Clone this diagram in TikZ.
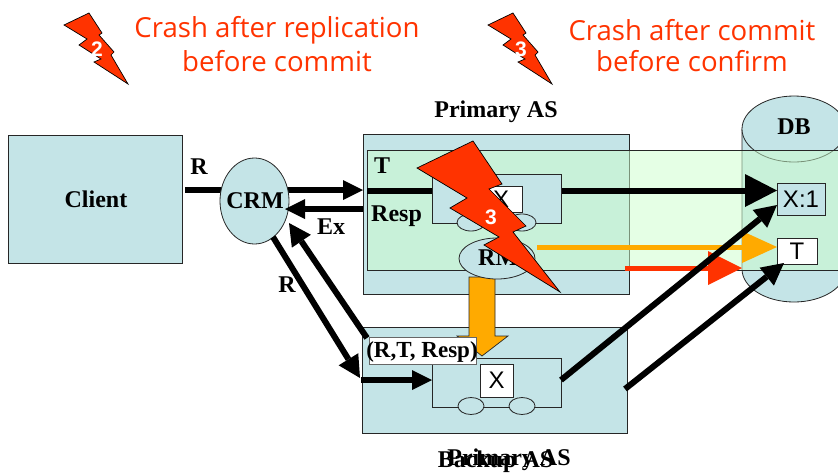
\documentclass[tikz,border=0pt]{standalone}
\usepackage{fontspec}
\setmainfont{Liberation Serif}
\setsansfont{Liberation Sans}
\newfontfamily\crashfont{Open Sans}
\usetikzlibrary{arrows.meta,shapes.geometric}
\definecolor{boxblue}{HTML}{C4E4E7}
\definecolor{crashred}{HTML}{FF3300}
\definecolor{amber}{HTML}{FFAA00}
\definecolor{tgreen}{HTML}{CCFFCC}
\tikzset{
  bluebox/.style={draw=black!85,line width=.8pt,fill=boxblue,inner sep=0pt,outer sep=0pt},
  whitebox/.style={draw=black!85,line width=.8pt,fill=white,inner sep=0pt,outer sep=0pt,font=\sffamily\fontsize{24}{26}\selectfont},
  oval/.style={draw=black!85,line width=.8pt,fill=boxblue,ellipse,inner sep=0pt,outer sep=0pt},
  lbl/.style={font=\bfseries\fontsize{24}{26}\selectfont,inner sep=0pt},
  crash/.style={font=\crashfont\fontsize{27.6}{30}\selectfont,text=crashred,inner sep=0pt},
  bolt/.style={fill=crashred,draw=black,line width=.7pt,line join=miter},
  boltnum/.style={font=\sffamily\bfseries\fontsize{21}{24}\selectfont,text=white,inner sep=0pt},
  bigarrow/.style={line width=6pt,draw=black,-{Triangle[length=22pt,width=23pt,line width=0pt]}},
  shortarrow/.style={line width=6pt,draw=black,-{Triangle[length=20pt,width=20pt,line width=0pt]}},
  blackline/.style={line width=6pt,draw=black},
}
\begin{document}
\begin{tikzpicture}[x=1pt,y=-1pt]
\useasboundingbox (0,0) rectangle (838,472);
\clip (0,0) rectangle (838,472);
% crash legends
\foreach \dx/\n in {0/2,424/3}{
  \begin{scope}[xshift=\dx pt]
  \draw[bolt] (89,13) -- (102,33) -- (99,35) -- (114,52) -- (111,55) -- (128,84) -- (94,62) -- (101,59) -- (79,45) -- (87,39) -- (64,25) -- cycle;
  \node[boltnum] (legend\n) at (97,49) {\n};
  \end{scope}
}
\node[crash] (c1a) at (277,30) {Crash after replication};
\node[crash] (c1b) at (277,61) {before commit};
\node[crash] (c2a) at (692,30) {Crash after commit};
\node[crash] (c2b) at (692,61) {before confirm};
% main boxes
\node[bluebox,minimum width=174pt,minimum height=128pt] (client) at (95,199) {};
\node[lbl] (clientt) at (96,199) {Client};
\node[bluebox,minimum width=266pt,minimum height=160pt] (primary) at (496,214) {};
\node[bluebox,minimum width=265pt,minimum height=106pt] (backup) at (494.5,380) {};
% DB
\draw[draw=black!85,line width=.8pt,fill=boxblue] (742,129) -- (742,269) arc[start angle=180,end angle=360,x radius=52,y radius=-33] -- (846,129) -- cycle;
\draw[draw=black!85,line width=.8pt,fill=boxblue] (794,129) ellipse[x radius=52,y radius=33];
\node[lbl] (db) at (794,127) {DB};
% transaction box
\fill[tgreen,opacity=.5] (367,150) rectangle (850,270);
\draw[black!85,line width=.8pt] (850,150) -- (367,150) -- (367,270) -- (850,270);
% db entries
\node[bluebox,font=\sffamily\fontsize{24}{26}\selectfont,minimum width=48pt,minimum height=32pt] (x1) at (801,199) {X:1};
\node[whitebox,minimum width=40pt,minimum height=26pt] (tdb) at (797,251) {T};
% connectors in T
\coordinate (tstart) at (367,190.5);
\coordinate (x1in) at (777,190.5);
\draw[line width=6pt,-{Triangle[length=32pt,width=33pt,line width=0pt]}] (tstart) -- (x1in);
\coordinate (ostart) at (537,247);
\coordinate (oend) at (777,247);
\draw[amber,line width=5pt,-{Triangle[length=35pt,width=32pt,line width=0pt]}] (ostart) -- (oend);
\coordinate (rstart) at (625,268);
\coordinate (rend) at (742,268);
\draw[crashred,line width=5pt,-{Triangle[length=34pt,width=34pt,line width=0pt]}] (rstart) -- (rend);
% primary server
\node[bluebox,minimum width=129pt,minimum height=49pt] (pinner) at (496.5,198.5) {};
\node[whitebox,minimum width=42pt,minimum height=26pt] (px) at (501,199) {X};
\node[oval,minimum width=28pt,minimum height=17pt] (po1) at (471,222.5) {};
\node[oval,minimum width=28pt,minimum height=17pt] (po2) at (522,222.5) {};
% fat orange arrow
\path (482,277) coordinate (fatstart) (482,356) coordinate (fatend);
\draw[black!85,line width=.7pt,fill=amber] (469,277) -- (469,336) -- (457,336) -- (482,356) -- (508,336) -- (495,336) -- (495,277) -- cycle;
\node[oval,minimum width=76pt,minimum height=41pt] (rm) at (497,258.5) {};
\node[lbl,anchor=west] (rmt) at (478,258) {RM};
% backup server
\node[bluebox,minimum width=129pt,minimum height=49pt] (binner) at (496.5,382.5) {};
\node[whitebox,minimum width=33pt,minimum height=33pt] (bx) at (496.5,380.5) {X};
\node[oval,minimum width=26pt,minimum height=17pt] (bo1) at (471,406) {};
\node[oval,minimum width=26pt,minimum height=17pt] (bo2) at (522,406) {};
% CRM
\draw[blackline] (185,190) coordinate (rin) -- (225,190) coordinate (crmw);
\coordinate (crme) at (285,190);
\coordinate (primw) at (363,190);
\draw[shortarrow] (crme) -- (primw);
\node[oval,minimum width=69pt,minimum height=86pt] (crm) at (254.5,201) {};
\node[lbl] (crmt) at (255,201) {CRM};
\coordinate (exs) at (363,209);
\coordinate (exe) at (285,209);
\draw[shortarrow] (exs) -- (exe);
\coordinate (ra) at (273,237);
\coordinate (rb) at (360,378);
\draw[bigarrow] (ra) -- (rb);
\coordinate (ua) at (367,338);
\coordinate (ub) at (289,223);
\draw[bigarrow] (ua) -- (ub);
\coordinate (ia) at (361,380);
\coordinate (ib) at (432,380);
\draw[shortarrow] (ia) -- (ib);
% replicated-state label
\node[draw=black!60,line width=.8pt,fill=white,minimum width=107pt,minimum height=27pt,inner sep=0pt] (state) at (422.5,350.5) {};
\node[lbl,font=\bfseries\fontsize{23}{26}\selectfont] (statet) at (422,352) {(R,T, Resp)};
% to DB from backup
\coordinate (xa) at (561,380);
\coordinate (xb) at (777,205);
\draw[bigarrow] (xa) -- (xb);
\coordinate (ta) at (625,389);
\coordinate (tb) at (784,263);
\draw[bigarrow] (ta) -- (tb);
% labels
\node[lbl] (pas) at (496,112) {Primary AS};
\node[lbl] (pas2) at (509,460) {Primary AS};
\node[lbl] (bas) at (495.5,462) {Backup AS};
\node[lbl] (t) at (382,166) {T};
\node[lbl,anchor=west] (resp) at (371,216) {Resp};
\node[lbl] (ex) at (331,227) {Ex};
\node[lbl] (r1) at (199,167) {R};
\node[lbl] (r2) at (287,285) {R};
% big bolt
\draw[bolt] (473,141) -- (502,184) -- (489,189) -- (526,226) -- (513,232) -- (560,292) -- (484,245) -- (499,237) -- (450,208) -- (467,198) -- (417,168) -- cycle;
\node[boltnum] (big3) at (491,217) {3};
\end{tikzpicture}
\end{document}
